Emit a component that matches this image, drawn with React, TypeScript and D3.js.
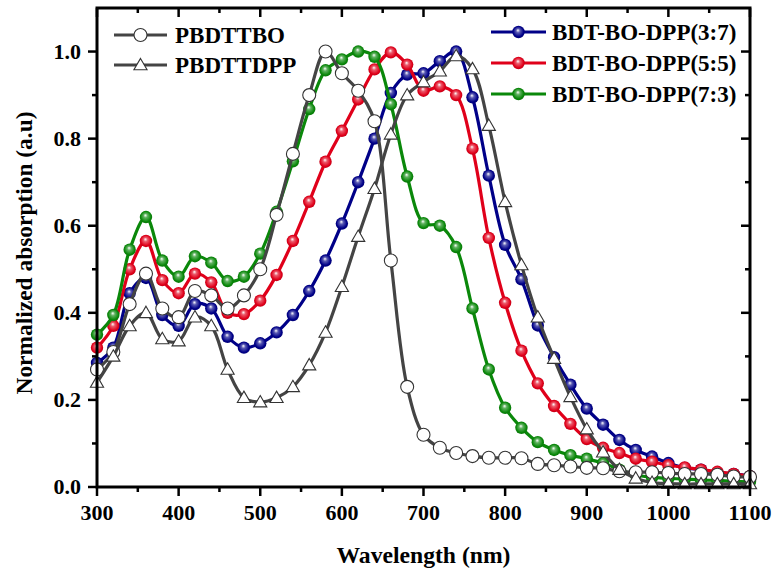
import React, { useEffect, useRef } from 'react';
import * as d3 from 'd3';

const wavelengths = [300, 320, 340, 360, 380, 400, 420, 440, 460, 480, 500, 520, 540, 560, 580, 600, 620, 640, 660, 680, 700,
  720, 740, 760, 780, 800, 820, 840, 860, 880, 900, 920, 940, 960, 980, 1000, 1020, 1040, 1060, 1080, 1100];

const pbdttbo = [0.27, 0.31, 0.42, 0.49, 0.41, 0.39, 0.45, 0.44, 0.41, 0.44, 0.50, 0.625, 0.765, 0.90, 1.0, 0.95, 0.91, 0.84, 0.52, 0.23, 0.12,
  0.09, 0.078, 0.071, 0.067, 0.067, 0.066, 0.053, 0.05, 0.047, 0.044, 0.043, 0.036, 0.034, 0.034, 0.032, 0.03, 0.03, 0.028, 0.024, 0.023];
const pbdttdpp = [0.24, 0.30, 0.37, 0.40, 0.34, 0.335, 0.39, 0.37, 0.27, 0.205, 0.195, 0.205, 0.23, 0.28, 0.355, 0.46, 0.575, 0.685, 0.81, 0.90, 0.93,
  0.955, 0.99, 0.96, 0.83, 0.655, 0.51, 0.39, 0.295, 0.207, 0.133, 0.08, 0.04, 0.02, 0.01, 0.008, 0.007, 0.007, 0.007, 0.007, 0.007];
const dpp37 = [0.285, 0.32, 0.445, 0.48, 0.395, 0.37, 0.42, 0.41, 0.345, 0.32, 0.33, 0.355, 0.395, 0.45, 0.52, 0.605, 0.70, 0.80, 0.905, 0.947, 0.95,
  0.978, 1.0, 0.895, 0.715, 0.556, 0.477, 0.371, 0.298, 0.235, 0.18, 0.143, 0.108, 0.085, 0.07, 0.055, 0.044, 0.04, 0.033, 0.03, 0.025];
const dpp55 = [0.32, 0.37, 0.50, 0.565, 0.475, 0.445, 0.49, 0.47, 0.40, 0.397, 0.428, 0.487, 0.565, 0.655, 0.747, 0.818, 0.89, 0.959, 0.998, 0.97, 0.91,
  0.92, 0.90, 0.777, 0.572, 0.423, 0.313, 0.238, 0.186, 0.145, 0.11, 0.09, 0.078, 0.065, 0.058, 0.05, 0.045, 0.04, 0.035, 0.03, 0.025];
const dpp73 = [0.35, 0.395, 0.545, 0.62, 0.52, 0.483, 0.53, 0.515, 0.473, 0.483, 0.536, 0.632, 0.748, 0.868, 0.957, 0.982, 1.0, 0.988, 0.879, 0.713, 0.606,
  0.60, 0.551, 0.41, 0.27, 0.182, 0.136, 0.103, 0.085, 0.073, 0.065, 0.055, 0.04, 0.028, 0.022, 0.02, 0.018, 0.016, 0.015, 0.013, 0.012];

const xTicks = [300, 400, 500, 600, 700, 800, 900, 1000, 1100];
const yTicks = [0.0, 0.2, 0.4, 0.6, 0.8, 1.0];

const series = [
  { name: 'BDT-BO-DPP(3:7)', values: dpp37, color: '#000088', marker: 'ball', id: 'blue' },
  { name: 'BDT-BO-DPP(5:5)', values: dpp55, color: '#e0001a', marker: 'ball', id: 'red' },
  { name: 'BDT-BO-DPP(7:3)', values: dpp73, color: '#0a880a', marker: 'ball', id: 'green' },
  { name: 'PBDTTBO', values: pbdttbo, color: '#444444', marker: 'circle', id: 'c' },
  { name: 'PBDTTDPP', values: pbdttdpp, color: '#444444', marker: 'tri', id: 't' },
];

const W = 776, H = 574;
const margin = { top: 8, right: 26, bottom: 87, left: 97 };
const font = '"Liberation Serif", "Times New Roman", serif';

export default function App() {
  const ref = useRef<SVGSVGElement>(null);

  useEffect(() => {
    const svg = d3.select(ref.current);
    svg.selectAll('*').remove();
    const w = W - margin.left - margin.right;
    const h = H - margin.top - margin.bottom;

    const x = d3.scaleLinear().domain([300, 1100]).range([0, w]);
    const y = d3.scaleLinear().domain([0, 1.1]).range([h, 0]);

    const defs = svg.append('defs');
    series.filter(s => s.marker === 'ball').forEach(s => {
      const g = defs.append('radialGradient').attr('id', 'ball-' + s.id)
        .attr('cx', '50%').attr('cy', '50%').attr('r', '55%').attr('fx', '45%').attr('fy', '35%');
      g.append('stop').attr('offset', '0%').attr('stop-color', '#ffffff');
      g.append('stop').attr('offset', '30%').attr('stop-color', d3.interpolateRgb(s.color, '#ffffff')(0.35));
      g.append('stop').attr('offset', '75%').attr('stop-color', s.color);
      g.append('stop').attr('offset', '100%').attr('stop-color', d3.color(s.color)!.darker(0.6).toString());
    });
    defs.append('clipPath').attr('id', 'plotclip').append('rect')
      .attr('x', -8).attr('y', -8).attr('width', w + 16).attr('height', h + 16);

    const g = svg.append('g').attr('transform', `translate(${margin.left},${margin.top})`);

    const line = d3.line<number>()
      .x((_, i) => x(wavelengths[i]))
      .y(d => y(d))
      .curve(d3.curveCatmullRom.alpha(0.5));

    const tri = d3.symbol().type(d3.symbolTriangle).size(75);

    const drawMarker = (sel: any, s: any, cx: number, cy: number) => {
      if (s.marker === 'ball') {
        sel.append('circle').attr('cx', cx).attr('cy', cy).attr('r', 6.2)
          .attr('fill', `url(#ball-${s.id})`);
      } else if (s.marker === 'circle') {
        sel.append('circle').attr('cx', cx).attr('cy', cy).attr('r', 6.5)
          .attr('fill', '#fff').attr('stroke', '#333').attr('stroke-width', 1.1);
      } else {
        sel.append('path').attr('d', tri).attr('transform', `translate(${cx},${cy + 1})`)
          .attr('fill', '#fff').attr('stroke', '#333').attr('stroke-width', 1.1);
      }
    };

    const plot = g.append('g').attr('clip-path', 'url(#plotclip)');
    series.forEach(s => {
      const sg = plot.append('g');
      sg.append('path').datum(s.values).attr('d', line)
        .attr('fill', 'none').attr('stroke', s.color).attr('stroke-width', 3.2);
      s.values.forEach((v, i) => drawMarker(sg, s, x(wavelengths[i]), y(v)));
    });

    // frame
    g.append('rect').attr('x', 0).attr('y', 0).attr('width', w).attr('height', h)
      .attr('fill', 'none').attr('stroke', '#000').attr('stroke-width', 3);

    const xMinor = [350, 450, 550, 650, 750, 850, 950, 1050];
    const yMinor = [0.1, 0.3, 0.5, 0.7, 0.9];
    const tk = g.append('g').attr('stroke', '#000').attr('stroke-width', 2.5);
    xTicks.forEach(t => {
      tk.append('line').attr('x1', x(t)).attr('x2', x(t)).attr('y1', h).attr('y2', h + 9);
      tk.append('line').attr('x1', x(t)).attr('x2', x(t)).attr('y1', 0).attr('y2', 9);
    });
    xMinor.forEach(t => {
      tk.append('line').attr('x1', x(t)).attr('x2', x(t)).attr('y1', h).attr('y2', h + 5);
      tk.append('line').attr('x1', x(t)).attr('x2', x(t)).attr('y1', 0).attr('y2', 5);
    });
    yTicks.forEach(t => {
      tk.append('line').attr('x1', -9).attr('x2', 0).attr('y1', y(t)).attr('y2', y(t));
      tk.append('line').attr('x1', w - 9).attr('x2', w).attr('y1', y(t)).attr('y2', y(t));
    });
    yMinor.forEach(t => {
      tk.append('line').attr('x1', -5).attr('x2', 0).attr('y1', y(t)).attr('y2', y(t));
      tk.append('line').attr('x1', w - 5).attr('x2', w).attr('y1', y(t)).attr('y2', y(t));
    });

    g.selectAll('.xl').data(xTicks).join('text')
      .attr('x', d => x(d)).attr('y', h + 33).attr('text-anchor', 'middle')
      .attr('font-family', font).attr('font-weight', 'bold').attr('font-size', 22)
      .text(d => String(d));
    g.selectAll('.yl').data(yTicks).join('text')
      .attr('x', -16).attr('y', d => y(d) + 7).attr('text-anchor', 'end')
      .attr('font-family', font).attr('font-weight', 'bold').attr('font-size', 22)
      .text(d => d.toFixed(1));

    g.append('text').attr('x', w / 2).attr('y', h + 76).attr('text-anchor', 'middle')
      .attr('font-family', font).attr('font-weight', 'bold').attr('font-size', 24)
      .attr('textLength', 174).attr('lengthAdjust', 'spacingAndGlyphs')
      .text('Wavelength (nm)');
    svg.append('text').attr('transform', `translate(32,253) rotate(-90)`).attr('text-anchor', 'middle')
      .attr('font-family', font).attr('font-weight', 'bold').attr('font-size', 24)
      .attr('textLength', 283).attr('lengthAdjust', 'spacingAndGlyphs')
      .text('Normalized absorption (a.u)');

    // legends
    const leg = svg.append('g');
    const legendRows = [
      { s: series[3], x0: 114, x1: 167, ty: 35, tx: 175 },
      { s: series[4], x0: 114, x1: 167, ty: 65, tx: 175 },
      { s: series[0], x0: 491, x1: 546, ty: 32, tx: 552 },
      { s: series[1], x0: 491, x1: 546, ty: 63, tx: 552 },
      { s: series[2], x0: 491, x1: 546, ty: 94, tx: 552 },
    ];
    legendRows.forEach(r => {
      leg.append('line').attr('x1', r.x0).attr('x2', r.x1).attr('y1', r.ty).attr('y2', r.ty)
        .attr('stroke', r.s.color).attr('stroke-width', 3.2);
      drawMarker(leg, r.s, (r.x0 + r.x1) / 2, r.ty);
      leg.append('text').attr('x', r.tx).attr('y', r.ty + 8)
        .attr('font-family', font).attr('font-weight', 'bold').attr('font-size', 23)
        .text(r.s.name);
    });
  }, []);

  return (
    <div style={{ position: 'absolute', left: 0, top: 0, background: '#fff' }}>
      <svg ref={ref} width={W} height={H}></svg>
    </div>
  );
}
